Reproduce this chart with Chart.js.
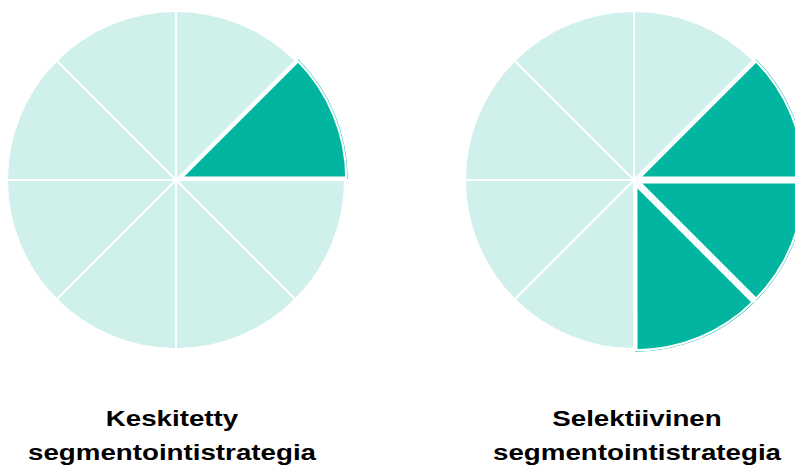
<!DOCTYPE html>
<html lang="fi">
<head>
<meta charset="utf-8">
<title>Segmentointistrategiat</title>
<script src="https://cdn.jsdelivr.net/npm/chart.js@4/dist/chart.umd.min.js"></script>
<style>
    html, body {
        margin: 0;
        padding: 0;
        background: #fff;
        overflow: hidden;
    }
    #stage {
        position: relative;
        width: 795px;
        height: 468px;
        overflow: hidden;
    }
    .pie-box {
        position: absolute;
        top: 0;
        width: 352px;
        height: 360px;
    }
    .caption {
        position: absolute;
        top: 402px;
        width: 400px;
        text-align: center;
        font-family: "Liberation Sans", Arial, sans-serif;
        font-weight: bold;
        font-size: 22px;
        line-height: 34px;
        color: #000;
        transform: scaleX(1.26);
        transform-origin: center top;
        white-space: nowrap;
    }
</style>
</head>
<body>
<div id="stage">
    <div class="pie-box" style="left: 0px;"><canvas id="pieLeft"></canvas></div>
    <div class="pie-box" style="left: 458px;"><canvas id="pieRight"></canvas></div>
    <div class="caption" id="capLeft" style="left: -28px;"></div>
    <div class="caption" id="capRight" style="left: 437px;"></div>
</div>
<script>
// eight equal market segments
const segments = ['1', '2', '3', '4', '5', '6', '7', '8'];
const segmentShare = [1, 1, 1, 1, 1, 1, 1, 1];

// 1 = segment is targeted
const targetedLeft = [0, 1, 0, 0, 0, 0, 0, 0];
const targetedRight = [0, 1, 1, 1, 0, 0, 0, 0];

const captions = [
    ['Keskitetty', 'segmentointistrategia'],
    ['Selektiivinen', 'segmentointistrategia']
];

const LIGHT = '#cff0eb';
const DARK = '#02b5a0';

function makePie(canvasId, targeted) {
    const ctx = document.getElementById(canvasId).getContext('2d');
    return new Chart(ctx, {
        type: 'pie',
        data: {
            labels: segments,
            datasets: [{
                data: segmentShare,
                backgroundColor: targeted.map(t => t ? DARK : LIGHT),
                borderColor: '#ffffff',
                borderWidth: targeted.map(t => t ? 2.5 : 2),
                borderAlign: targeted.map(t => t ? 'inner' : 'center'),
                offset: targeted.map(t => t ? 10 : 0)
            }]
        },
        options: {
            responsive: true,
            maintainAspectRatio: false,
            animation: false,
            radius: 169,
            layout: { padding: 0 },
            plugins: {
                legend: { display: false },
                tooltip: { enabled: false },
                title: { display: false }
            }
        }
    });
}

makePie('pieLeft', targetedLeft);
makePie('pieRight', targetedRight);

document.getElementById('capLeft').innerHTML = captions[0].join('<br>');
document.getElementById('capRight').innerHTML = captions[1].join('<br>');
</script>
</body>
</html>
